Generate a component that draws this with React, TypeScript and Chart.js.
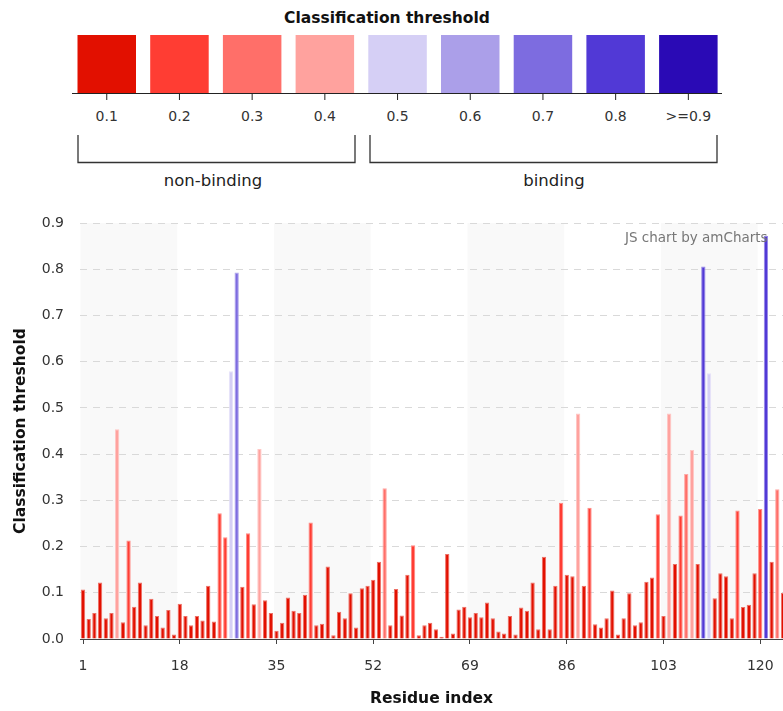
import React, { useEffect, useRef } from "react";
import { Chart, registerables } from "chart.js";

Chart.register(...registerables);

const FONT = "DejaVu Sans";

// Classification threshold per residue (residue index = position + 1)
const thresholds = [
  0.107, 0.043, 0.056, 0.122, 0.045, 0.056, 0.454, 0.036, 0.213, 0.070,
  0.122, 0.030, 0.087, 0.050, 0.025, 0.063, 0.010, 0.076, 0.050, 0.030,
  0.050, 0.040, 0.115, 0.038, 0.272, 0.220, 0.579, 0.793, 0.113, 0.229,
  0.075, 0.411, 0.084, 0.056, 0.018, 0.035, 0.090, 0.061, 0.056, 0.096,
  0.252, 0.030, 0.033, 0.157, 0.008, 0.059, 0.045, 0.099, 0.025, 0.110,
  0.115, 0.128, 0.167, 0.326, 0.030, 0.108, 0.051, 0.139, 0.203, 0.008,
  0.030, 0.035, 0.021, 0.005, 0.184, 0.012, 0.064, 0.070, 0.047, 0.056,
  0.047, 0.079, 0.045, 0.016, 0.012, 0.050, 0.010, 0.068, 0.061, 0.122,
  0.021, 0.178, 0.021, 0.115, 0.295, 0.139, 0.136, 0.488, 0.115, 0.284,
  0.032, 0.025, 0.045, 0.105, 0.010, 0.045, 0.099, 0.030, 0.036, 0.124,
  0.133, 0.270, 0.050, 0.488, 0.162, 0.267, 0.357, 0.409, 0.162, 0.806,
  0.575, 0.088, 0.142, 0.136, 0.045, 0.278, 0.069, 0.074, 0.142, 0.281,
  0.872, 0.167, 0.324, 0.100,
];

const residueTicks = [1, 18, 35, 52, 69, 86, 103, 120];
const yTickValues = [0, 0.1, 0.2, 0.3, 0.4, 0.5, 0.6, 0.7, 0.8, 0.9];
const bandRanges = [
  [1, 18],
  [35, 52],
  [69, 86],
  [103, 120],
];

const legendLabels = ["0.1", "0.2", "0.3", "0.4", "0.5", "0.6", "0.7", "0.8", ">=0.9"];
const legendColors = [
  "#e21000", "#ff3d33", "#ff6f69", "#ffa29e", "#d5cff5",
  "#ab9fe9", "#7d6ce0", "#5139d6", "#2a0ab5",
];
const groupLabels = ["non-binding", "binding"];

function lighten(hex: string, t: number) {
  const n = parseInt(hex.slice(1), 16);
  const r = (n >> 16) & 255, g = (n >> 8) & 255, b = n & 255;
  const m = (c: number) => Math.round(c + (255 - c) * t);
  return `rgb(${m(r)},${m(g)},${m(b)})`;
}

function colorIndex(v: number) {
  const k = Math.floor(v * 10 + 1e-9);
  return Math.min(Math.max(k, 1), 9) - 1;
}

const bandsPlugin = {
  id: "bands",
  beforeDraw(chart: any) {
    const { ctx, chartArea, scales } = chart;
    const x = scales.x;
    ctx.save();
    ctx.fillStyle = "#f9f9f9";
    for (const [a, b] of bandRanges) {
      const x0 = Math.max(chartArea.left, x.getPixelForValue(a - 0.45));
      const x1 = Math.min(chartArea.right, x.getPixelForValue(b - 0.45));
      ctx.fillRect(x0, chartArea.top, x1 - x0, chartArea.bottom - chartArea.top);
    }
    ctx.restore();
  },
};

const watermarkPlugin = {
  id: "watermark",
  afterDraw(chart: any) {
    const { ctx } = chart;
    ctx.save();
    ctx.font = `13.5px "${FONT}"`;
    ctx.fillStyle = "#777";
    ctx.textAlign = "left";
    ctx.textBaseline = "middle";
    ctx.fillText("JS chart by amCharts", 625, 43);
    ctx.restore();
  },
};

function BarChart() {
  const ref = useRef<HTMLCanvasElement>(null);
  useEffect(() => {
    if (!ref.current) return;
    const data = thresholds.map((v, i) => ({ x: i + 1, y: v }));
    const fills = thresholds.map((v) => legendColors[colorIndex(v)]);
    const borders = thresholds.map((v) => lighten(legendColors[colorIndex(v)], 0.4));
    const chart = new Chart(ref.current, {
      type: "bar",
      data: {
        datasets: [
          {
            data,
            backgroundColor: fills,
            borderColor: borders,
            borderWidth: 1,
            categoryPercentage: 1,
            barPercentage: 0.76,
          } as any,
        ],
      },
      options: {
        responsive: false,
        animation: false,
        events: [],
        layout: { padding: { top: 28, left: 0, right: 0, bottom: 0 } },
        plugins: { legend: { display: false }, tooltip: { enabled: false } },
        scales: {
          x: {
            type: "linear",
            min: 0.47,
            max: 124.0,
            offset: false,
            afterBuildTicks(s: any) {
              s.ticks = residueTicks.map((v) => ({ value: v }));
            },
            afterFit(s: any) {
              s.height = 72;
              s.paddingLeft = 0;
              s.paddingRight = 0;
            },
            ticks: {
              autoSkip: false,
              maxRotation: 0,
              padding: 14,
              color: "#333",
              font: { family: FONT, size: 14 },
              callback: (v: any) => String(v),
            },
            grid: { offset: false, drawOnChartArea: false, drawTicks: true, tickLength: 5, color: "#444" },
            border: { display: true, color: "#444", width: 1 },
            title: {
              display: true,
              text: "Residue index",
              color: "#111",
              font: { family: FONT, size: 15.5, weight: "bold" },
              padding: { top: 0, bottom: 3 },
            },
          } as any,
          y: {
            min: 0,
            max: 0.9,
            afterBuildTicks(s: any) {
              s.ticks = yTickValues.map((v) => ({ value: v }));
            },
            afterFit(s: any) {
              s.width = 80;
              s.paddingTop = 0;
              s.paddingBottom = 0;
            },
            ticks: {
              padding: 16,
              color: "#333",
              font: { family: FONT, size: 14 },
              callback: (v: any) => Number(v).toFixed(1),
            },
            grid: { color: "#d9d9d9", drawTicks: false, lineWidth: 1 },
            border: { display: false, dash: [7, 6] },
            title: {
              display: true,
              text: "Classification threshold",
              color: "#111",
              font: { family: FONT, size: 15.5, weight: "bold" },
              padding: { top: 12, bottom: 0 },
            },
          } as any,
        },
      },
      plugins: [bandsPlugin, watermarkPlugin],
    });
    return () => chart.destroy();
  }, []);
  return (
    <canvas
      ref={ref}
      width={783}
      height={516}
      style={{ position: "absolute", left: 0, top: 195, width: 783, height: 516 }}
    />
  );
}

function Legend() {
  const boxLeft = (i: number) => 77.5 + i * 72.7;
  const boxW = 58.5;
  return (
    <svg width={783} height={195} style={{ position: "absolute", left: 0, top: 0 }}>
      <text x={387} y={23} textAnchor="middle" fontFamily={FONT} fontWeight="bold" fontSize={15.5} fill="#111">
        Classification threshold
      </text>
      {legendColors.map((c, i) => (
        <rect key={"b" + i} x={boxLeft(i)} y={35} width={boxW} height={58} fill={c} />
      ))}
      <line x1={72} x2={722} y1={93.5} y2={93.5} stroke="#222" strokeWidth={1.2} />
      {legendLabels.map((l, i) => {
        const cx = boxLeft(i) + boxW / 2;
        return (
          <g key={"l" + i}>
            <line x1={cx} x2={cx} y1={93.5} y2={100} stroke="#222" strokeWidth={1} />
            <text x={cx} y={121} textAnchor="middle" fontFamily={FONT} fontSize={14} fill="#333">
              {l}
            </text>
          </g>
        );
      })}
      <path d="M78,135 V162.5 H355 V135" fill="none" stroke="#333" strokeWidth={1.3} />
      <path d="M370,135 V162.5 H717 V135" fill="none" stroke="#333" strokeWidth={1.3} />
      <text x={213} y={186} textAnchor="middle" fontFamily={FONT} fontSize={16.5} fill="#222">
        {groupLabels[0]}
      </text>
      <text x={554} y={186} textAnchor="middle" fontFamily={FONT} fontSize={16.5} fill="#222">
        {groupLabels[1]}
      </text>
    </svg>
  );
}

export default function App() {
  return (
    <div
      style={{
        position: "absolute",
        left: 0,
        top: 0,
        width: 783,
        height: 711,
        overflow: "hidden",
        background: "#fff",
      }}
    >
      <Legend />
      <BarChart />
    </div>
  );
}
